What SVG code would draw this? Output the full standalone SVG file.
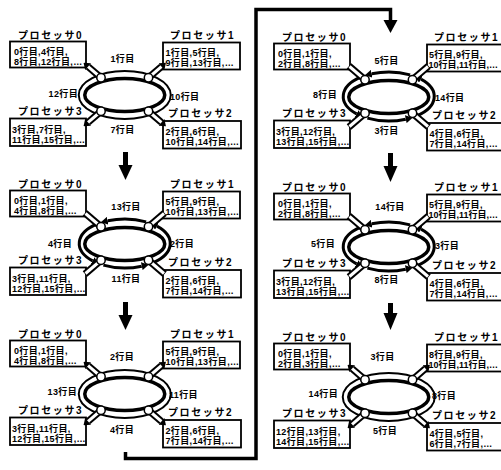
<svg xmlns="http://www.w3.org/2000/svg" width="501" height="470" viewBox="0 0 501 470">
<style>
.box{fill:#fff;stroke:#000;stroke-width:1.8}
.t{font-family:"Liberation Sans","Noto Sans CJK JP",sans-serif;font-weight:bold;font-size:9px;letter-spacing:0.35px;fill:#000}
.n{letter-spacing:0px}
.p{font-family:"Liberation Sans","Noto Sans CJK JP",sans-serif;font-weight:bold;font-size:10px;letter-spacing:1.6px;fill:#000}
.c{text-anchor:middle}
.e{text-anchor:end}
.inner{fill:none;stroke:#000;stroke-width:3.5}
.outer{fill:none;stroke:#000;stroke-width:2}
.tb{fill:none;stroke:#000;stroke-width:7}
.tba{fill:none;stroke:#000;stroke-width:7;marker-end:url(#ah)}
.tw{fill:none;stroke:#fff;stroke-width:3}
.arc{fill:none;stroke:#000;stroke-width:3;marker-end:url(#ah2)}
.node{fill:#fff;stroke:#000;stroke-width:1.5}
.conn{fill:none;stroke:#000;stroke-width:3.5;stroke-linejoin:miter}
</style>
<defs>
<marker id="ah" markerUnits="userSpaceOnUse" viewBox="0 0 6 9" refX="0" refY="4.5" markerWidth="6" markerHeight="9" orient="auto"><path d="M0,0 L6,4.5 L0,9 z"/></marker>
<marker id="ah2" markerUnits="userSpaceOnUse" viewBox="0 0 7 8" refX="0" refY="4" markerWidth="7" markerHeight="8" orient="auto"><path d="M0,0 L7,4 L0,8 z"/></marker>
<ellipse id="outerEll" class="outer" cx="124.75" cy="95" rx="46" ry="24"/>
<ellipse id="innerEll" class="inner" cx="124.75" cy="95" rx="40" ry="16.5"/>
<g id="tubesArrow">
<path class="tba" d="M101,77.75 L88.1,66.7"/><path class="tw" d="M101,77.75 L88.1,66.7"/>
<path class="tba" d="M148.5,77.75 L161.4,66.7"/><path class="tw" d="M148.5,77.75 L161.4,66.7"/>
<path class="tba" d="M101,111.25 L88.1,122.3"/><path class="tw" d="M101,111.25 L88.1,122.3"/>
<path class="tba" d="M148.5,111.25 L161.4,122.3"/><path class="tw" d="M148.5,111.25 L161.4,122.3"/>
</g>
<g id="tubesPlain">
<path class="tb" d="M101,77.75 L85,64"/><path class="tw" d="M101,77.75 L85.5,64.5"/>
<path class="tb" d="M148.5,77.75 L164.5,64"/><path class="tw" d="M148.5,77.75 L164,64.5"/>
<path class="tb" d="M101,111.25 L85,125"/><path class="tw" d="M101,111.25 L85.5,124.5"/>
<path class="tb" d="M148.5,111.25 L164.5,125"/><path class="tw" d="M148.5,111.25 L164,124.5"/>
</g>
<g id="arcs">
<path class="arc" d="M146.11,72.87 A45.5,24.5 0 0 0 107.71,71.78"/>
<path class="arc" d="M96.74,75.19 A45.5,24.5 0 0 0 92.58,111.82"/>
<path class="arc" d="M103.39,116.13 A45.5,24.5 0 0 0 141.79,117.22"/>
<path class="arc" d="M152.76,113.81 A45.5,24.5 0 0 0 156.92,77.18"/>
</g>
<g id="nodes">
<circle class="node" cx="101" cy="77.75" r="4.2"/>
<circle class="node" cx="148.5" cy="77.75" r="4.2"/>
<circle class="node" cx="101" cy="111.25" r="4.2"/>
<circle class="node" cx="148.5" cy="111.25" r="4.2"/>
</g>
<g id="boxes">
<rect class="box" x="10" y="41.5" width="76" height="26"/>
<rect class="box" x="163" y="42.5" width="77" height="27"/>
<rect class="box" x="10" y="118.5" width="76" height="27.5"/>
<rect class="box" x="163" y="121" width="78" height="27.5"/>
<text class="p" x="18" y="38.5">プロセッサ0</text>
<text class="p" x="170" y="39">プロセッサ1</text>
<text class="p" x="18" y="115">プロセッサ3</text>
<text class="p" x="168" y="117">プロセッサ2</text>
</g>
</defs>

<g id="panelA">
<use href="#boxes"/>
<g id="A-ring"><use href="#outerEll"/><use href="#innerEll"/><use href="#tubesArrow"/><use href="#nodes"/></g>
<g id="A-p0"><text class="t" x="14" y="54.5">0行目,4行目,</text><text class="t" x="14" y="64.5">8行目,12行目,…</text></g>
<g id="A-p1"><text class="t" x="165.5" y="56">1行目,5行目,</text><text class="t" x="165.5" y="66">9行目,13行目,…</text></g>
<g id="A-p3"><text class="t" x="12" y="132.5">3行目,7行目,</text><text class="t" x="12" y="142.5">11行目,15行目,…</text></g>
<g id="A-p2"><text class="t" x="165.5" y="134.5">2行目,6行目,</text><text class="t" x="165.5" y="144.5">10行目,14行目,…</text></g>
<text class="t c" x="122.5" y="62">1行目</text><text class="t e" x="78" y="97">12行目</text><text class="t" x="170" y="100">10行目</text><text class="t c" x="122.5" y="133">7行目</text>
</g>

<g id="panelB" transform="translate(0,149)">
<use href="#boxes"/>
<g id="B-ring"><use href="#innerEll"/><use href="#arcs"/><use href="#tubesPlain"/><use href="#nodes"/></g>
<g id="B-p0"><text class="t" x="14" y="54.5">0行目,1行目,</text><text class="t" x="14" y="64.5">4行目,8行目,…</text></g>
<g id="B-p1"><text class="t" x="165.5" y="56">5行目,9行目,</text><text class="t" x="165.5" y="66">10行目,13行目,…</text></g>
<g id="B-p3"><text class="t" x="12" y="132.5">3行目,11行目,</text><text class="t" x="12" y="142.5">12行目,15行目,…</text></g>
<g id="B-p2"><text class="t" x="165.5" y="134.5">2行目,6行目,</text><text class="t" x="165.5" y="144.5">7行目,14行目,…</text></g>
<text class="t c" x="126" y="61">13行目</text><text class="t e" x="72" y="98">4行目</text><text class="t" x="170" y="98">2行目</text><text class="t c" x="126" y="133">11行目</text>
</g>

<g id="panelC" transform="translate(0,299)">
<use href="#boxes"/>
<g id="C-ring"><use href="#outerEll"/><use href="#innerEll"/><use href="#tubesArrow"/><use href="#nodes"/></g>
<g id="C-p0"><text class="t" x="14" y="54.5">0行目,1行目,</text><text class="t" x="14" y="64.5">4行目,8行目,…</text></g>
<g id="C-p1"><text class="t" x="165.5" y="56">5行目,9行目,</text><text class="t" x="165.5" y="66">10行目,13行目,…</text></g>
<g id="C-p3"><text class="t" x="12" y="132.5">3行目,11行目,</text><text class="t" x="12" y="142.5">12行目,15行目,…</text></g>
<g id="C-p2"><text class="t" x="165.5" y="134.5">2行目,6行目,</text><text class="t" x="165.5" y="144.5">7行目,14行目,…</text></g>
<text class="t c" x="122" y="61">2行目</text><text class="t e" x="77" y="96">13行目</text><text class="t" x="169" y="99">11行目</text><text class="t c" x="122" y="134">4行目</text>
</g>

<g id="panelD" transform="translate(264,2)">
<use href="#boxes"/>
<g id="D-ring"><use href="#innerEll"/><use href="#arcs"/><use href="#tubesPlain"/><use href="#nodes"/></g>
<g id="D-p0"><text class="t" x="14" y="54.5">0行目,1行目,</text><text class="t" x="14" y="64.5">2行目,8行目,…</text></g>
<g id="D-p1"><text class="t" x="165" y="56">5行目,9行目,</text><text class="t n" x="164.5" y="66">10行目,11行目,…</text></g>
<g id="D-p3"><text class="t" x="12" y="132.5">3行目,12行目,</text><text class="t" x="12" y="142.5">13行目,15行目,…</text></g>
<g id="D-p2"><text class="t" x="165.5" y="134.5">4行目,6行目,</text><text class="t" x="165.5" y="144.5">7行目,14行目,…</text></g>
<text class="t c" x="122.5" y="62">5行目</text><text class="t e" x="73" y="96">8行目</text><text class="t" x="171" y="99">14行目</text><text class="t c" x="122.5" y="132">3行目</text>
</g>

<g id="panelE" transform="translate(264,152)">
<use href="#boxes"/>
<g id="E-ring"><use href="#innerEll"/><use href="#arcs"/><use href="#tubesPlain"/><use href="#nodes"/></g>
<g id="E-p0"><text class="t" x="14" y="54.5">0行目,1行目,</text><text class="t" x="14" y="64.5">2行目,8行目,…</text></g>
<g id="E-p1"><text class="t" x="165" y="56">5行目,9行目,</text><text class="t n" x="164.5" y="66">10行目,11行目,…</text></g>
<g id="E-p3"><text class="t" x="12" y="132.5">3行目,12行目,</text><text class="t" x="12" y="142.5">13行目,15行目,…</text></g>
<g id="E-p2"><text class="t" x="165.5" y="134.5">4行目,6行目,</text><text class="t" x="165.5" y="144.5">7行目,14行目,…</text></g>
<text class="t c" x="126" y="58">14行目</text><text class="t e" x="71" y="95">5行目</text><text class="t" x="171" y="97">3行目</text><text class="t c" x="122.5" y="131">8行目</text>
</g>

<g id="panelF" transform="translate(264,302)">
<use href="#boxes"/>
<g id="F-ring"><use href="#outerEll"/><use href="#innerEll"/><use href="#tubesArrow"/><use href="#nodes"/></g>
<g id="F-p0"><text class="t" x="14" y="54.5">0行目,1行目,</text><text class="t" x="14" y="64.5">2行目,3行目,…</text></g>
<g id="F-p1"><text class="t" x="165" y="56">8行目,9行目,</text><text class="t n" x="164.5" y="66">10行目,11行目,…</text></g>
<g id="F-p3"><text class="t" x="12" y="132.5">12行目,13行目,</text><text class="t" x="12" y="142.5">14行目,15行目,…</text></g>
<g id="F-p2"><text class="t" x="165.5" y="134.5">4行目,5行目,</text><text class="t" x="165.5" y="144.5">6行目,7行目,…</text></g>
<text class="t c" x="118.5" y="58">3行目</text><text class="t e" x="74" y="95">14行目</text><text class="t" x="168" y="97">8行目</text><text class="t c" x="121" y="132">5行目</text>
</g>

<g id="connectors">
<rect x="123" y="152" width="5" height="14"/><polygon points="118.5,165 132.5,165 125.5,180"/>
<rect x="123" y="302" width="5" height="14"/><polygon points="118.5,315 132.5,315 125.5,330"/>
<rect x="388" y="153" width="5" height="14"/><polygon points="383.5,166 397.5,166 390.5,182"/>
<rect x="388" y="303" width="5" height="11"/><polygon points="383.5,313 397.5,313 390.5,330"/>
<polyline class="conn" points="125.5,452 125.5,458.5 256,458.5 256,9.5 390.5,9.5 390.5,21"/>
<polygon points="383.5,20 397.5,20 390.5,33"/>
</g>
</svg>
